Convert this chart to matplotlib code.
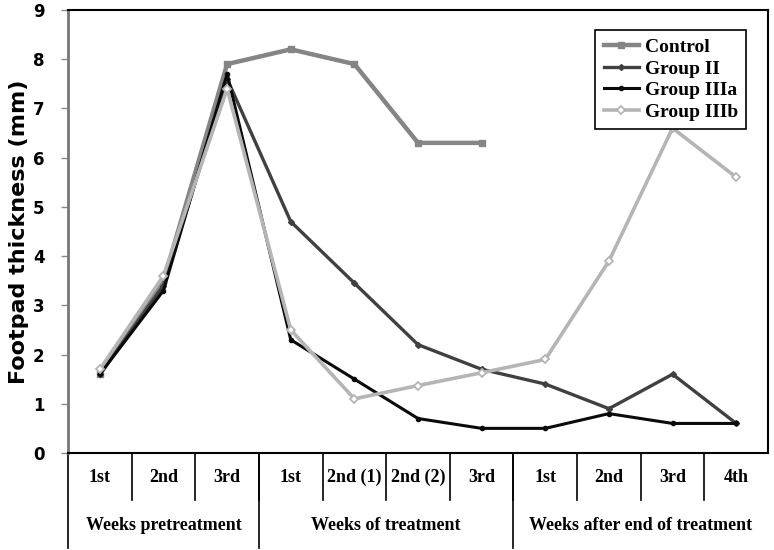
import matplotlib.pyplot as plt
import numpy as np

weeks = ['1st', '2nd', '3rd', '1st', '2nd (1)', '2nd (2)', '3rd', '1st', '2nd', '3rd', '4th']
phases = ['Weeks pretreatment', 'Weeks of treatment', 'Weeks after end of treatment']
phase_sizes = [3, 4, 4]

control = [1.6, 3.5, 7.9, 8.2, 7.9, 6.3, 6.3, np.nan, np.nan, np.nan, np.nan]
group_ii = [1.6, 3.4, 7.6, 4.7, 3.45, 2.2, 1.7, 1.4, 0.9, 1.6, 0.6]
group_iiia = [1.6, 3.3, 7.7, 2.3, 1.5, 0.7, 0.5, 0.5, 0.8, 0.6, 0.6]
group_iiib = [1.7, 3.6, 7.4, 2.5, 1.1, 1.37, 1.63, 1.9, 3.9, 6.6, 5.6]

serif = 'Liberation Serif'

fig = plt.figure(figsize=(7.74, 5.5), dpi=100)
ax = fig.add_axes([0.0879, 0.1764, 0.9044, 0.8055])

x = np.arange(len(weeks))
ax.plot(x, control, color='#858585', lw=3.2, marker='s', ms=4.5, label='Control')
ax.plot(x, group_ii, color='#404040', lw=2.4, marker='D', ms=3, label='Group II')
ax.plot(x, group_iiia, color='#0a0a0a', lw=2.2, marker='o', ms=3, label='Group IIIa')
ax.plot(x, group_iiib, color='#b5b5b5', lw=2.6, marker='D', ms=4, mfc='white',
        mec='#b5b5b5', mew=1.3, label='Group IIIb')

ax.set_xlim(-0.5, len(weeks) - 0.5)
ax.set_ylim(0, 9)
ax.set_yticks(range(0, 10))
ax.set_xticks([])
ax.tick_params(axis='y', direction='out', length=5, width=1, color='#888888', pad=12,
               labelsize=12)
for lab in ax.get_yticklabels():
    lab.set_fontweight('bold')
ax.set_ylabel('Footpad thickness (mm)', fontsize=16, fontweight='bold', labelpad=3)

ax.spines['left'].set_color('#777777')
ax.spines['left'].set_linewidth(2)
ax.spines['bottom'].set_linewidth(1.5)
ax.spines['top'].set_linewidth(1.5)
ax.spines['right'].set_linewidth(1.5)

# category table under the axis
tr = ax.get_xaxis_transform()
for i in range(1, len(weeks)):
    ax.plot([i - 0.5, i - 0.5], [0, -0.106], transform=tr, color='black', lw=1.2, clip_on=False)
for i, w in enumerate(weeks):
    ax.text(i, -0.056, w, transform=tr, ha='center', va='center', fontsize=13,
            fontweight='bold', family=serif)
edges = np.concatenate([[0], np.cumsum(phase_sizes)]) - 0.5
for e in edges[:-1]:
    ax.plot([e, e], [0, -0.215], transform=tr, color='black', lw=1.2, clip_on=False)
for p, a, b in zip(phases, edges[:-1], edges[1:]):
    ax.text((a + b) / 2, -0.163, p, transform=tr, ha='center', va='center', fontsize=13,
            fontweight='bold', family=serif)

leg = ax.legend(loc='upper right', bbox_to_anchor=(0.983, 0.977), fancybox=False,
                edgecolor='black', framealpha=1, handlelength=1.8, handletextpad=0.3,
                labelspacing=0.2, borderpad=0.45,
                prop={'family': serif, 'weight': 'bold', 'size': 14})
leg.get_frame().set_linewidth(1.2)

fig.savefig('out.png', dpi=100)
